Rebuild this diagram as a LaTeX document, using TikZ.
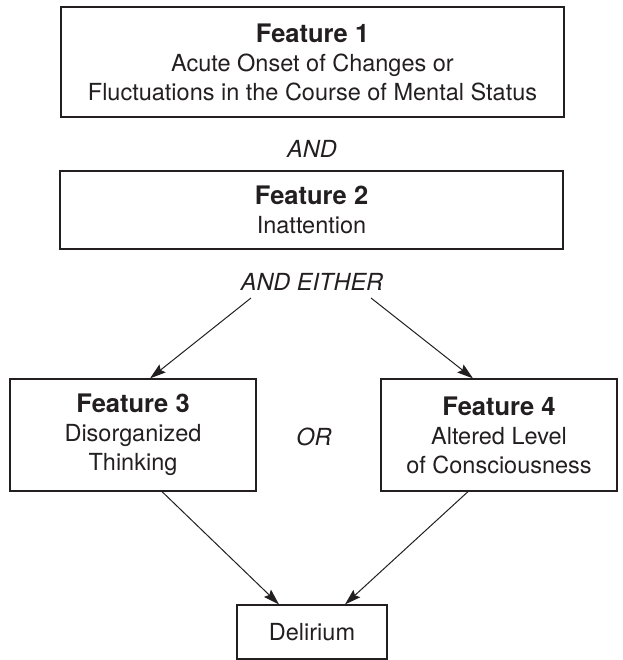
\documentclass[tikz,border=0pt]{standalone}
\usepackage{fontspec}
\setmainfont{TeX Gyre Heros}
\usetikzlibrary{arrows.meta}
\definecolor{ink}{HTML}{231F20}
\newcommand\fhead[1]{{\fontsize{25.5}{29}\selectfont\bfseries #1}}
\begin{document}
\begin{tikzpicture}[x=1pt,y=-1pt,
  box/.style={draw=ink, line width=1.2pt, align=center, inner sep=0pt, text=ink,
              font=\fontsize{23.5}{29}\selectfont},
  lbl/.style={text=ink, font=\fontsize{23.5}{29}\selectfont\itshape, inner sep=0pt},
  arr/.style={draw=ink, line width=1pt, -{Stealth[length=16pt,width=10pt,inset=2.5pt]}}]
\useasboundingbox (0,0) rectangle (622,660);

\node[box, minimum width=503pt, minimum height=110pt] (f1) at (312.5,62)
  {\fhead{Feature 1}\\Acute Onset of Changes or\\Fluctuations in the Course of Mental Status};
\node[lbl] (and1) at (312,148.5) {AND};
\node[box, minimum width=503pt, minimum height=78pt] (f2) at (311.5,210)
  {\fhead{Feature 2}\\Inattention};
\node[lbl] (either) at (312,282) {AND EITHER};
\node[box, minimum width=246pt, minimum height=112pt] (f3) at (133,435)
  {\fhead{Feature 3}\\Disorganized\\Thinking};
\node[box, minimum width=236pt, minimum height=112pt] (f4) at (499,435)
  {\fhead{Feature 4}\\Altered Level\\of Consciousness};
\node[lbl] (or) at (314,436.5) {OR};
\node[box, minimum width=150pt, minimum height=54pt] (del) at (312,632) {Delirium};

\coordinate (sl) at (251,298);
\coordinate (sr) at (371,298);
\draw[arr] (sl) -- ([xshift=17pt]f3.north);
\draw[arr] (sr) -- ([xshift=-26pt]f4.north);
\draw[arr] ([xshift=29pt]f3.south) -- ([xshift=-33pt]del.north);
\draw[arr] ([xshift=-31pt]f4.south) -- ([xshift=33pt]del.north);
\end{tikzpicture}
\end{document}
